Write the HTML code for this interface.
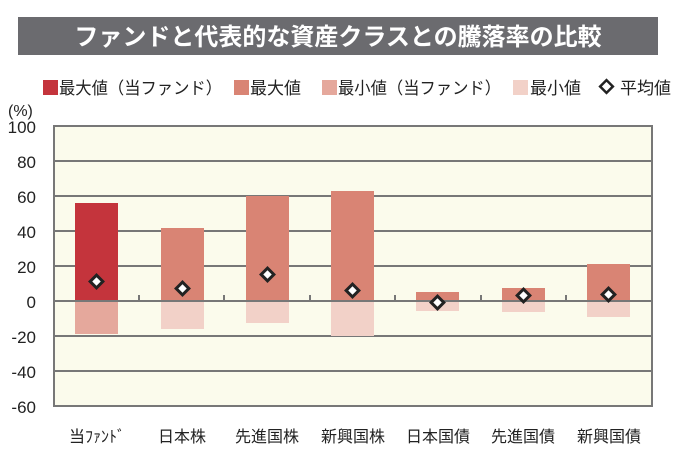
<!DOCTYPE html>
<html><head><meta charset="utf-8"><style>
body{margin:0;background:#fff;width:680px;height:462px;overflow:hidden}
svg text{font-family:"Liberation Sans","Noto Sans CJK JP",sans-serif}
</style></head><body>
<svg width="680" height="462" xmlns="http://www.w3.org/2000/svg">
<rect x="18" y="17" width="640" height="38" fill="#6b6b6f"/>
<text x="338" y="45" text-anchor="middle" font-size="24" font-weight="bold" fill="#fff">ファンドと代表的な資産クラスとの騰落率の比較</text>
<g font-size="17" fill="#222">
<rect x="43" y="80" width="15" height="15" fill="#c4343c"/><text x="59" y="94" textLength="163" lengthAdjust="spacingAndGlyphs">最大値（当ファンド）</text>
<rect x="234" y="80" width="15" height="15" fill="#d98474"/><text x="250" y="94">最大値</text>
<rect x="322" y="80" width="15" height="15" fill="#e5a89c"/><text x="338" y="94" textLength="163" lengthAdjust="spacingAndGlyphs">最小値（当ファンド）</text>
<rect x="513" y="80" width="15" height="15" fill="#f2d1c8"/><text x="530" y="94">最小値</text>
<rect x="602" y="82" width="9" height="9" transform="rotate(45 606.5 86.5)" fill="#fff" stroke="#222" stroke-width="2.5"/><text x="620" y="94">平均値</text>
</g>
<text x="8" y="116" font-size="16" fill="#222">(%)</text>
<rect x="54" y="126" width="598" height="280" fill="#fbfbec"/>
<g stroke="#777" stroke-width="2">
<line x1="54" y1="161" x2="652" y2="161"/><line x1="54" y1="196" x2="652" y2="196"/>
<line x1="54" y1="231" x2="652" y2="231"/><line x1="54" y1="266" x2="652" y2="266"/>
<line x1="54" y1="336" x2="652" y2="336"/><line x1="54" y1="371" x2="652" y2="371"/>
</g>
<g>
<rect x="75" y="203" width="43" height="98" fill="#c4343c"/><rect x="75" y="301" width="43" height="33" fill="#e5a89c"/>
<rect x="161" y="228" width="43" height="73" fill="#d98474"/><rect x="161" y="301" width="43" height="28" fill="#f2d1c8"/>
<rect x="246" y="196" width="43" height="105" fill="#d98474"/><rect x="246" y="301" width="43" height="22" fill="#f2d1c8"/>
<rect x="331" y="191" width="43" height="110" fill="#d98474"/><rect x="331" y="301" width="43" height="35" fill="#f2d1c8"/>
<rect x="416" y="292" width="43" height="9" fill="#d98474"/><rect x="416" y="301" width="43" height="10" fill="#f2d1c8"/>
<rect x="502" y="288" width="43" height="13" fill="#d98474"/><rect x="502" y="301" width="43" height="11" fill="#f2d1c8"/>
<rect x="587" y="264" width="43" height="37" fill="#d98474"/><rect x="587" y="301" width="43" height="16" fill="#f2d1c8"/>
</g>
<g stroke="#777" stroke-width="2">
<line x1="54" y1="301" x2="652" y2="301"/>
<line x1="139" y1="295" x2="139" y2="301"/><line x1="224" y1="295" x2="224" y2="301"/><line x1="310" y1="295" x2="310" y2="301"/>
<line x1="395" y1="295" x2="395" y2="301"/><line x1="481" y1="295" x2="481" y2="301"/><line x1="566" y1="295" x2="566" y2="301"/>
</g>
<rect x="54" y="126" width="598" height="280" fill="none" stroke="#777" stroke-width="2"/>
<g fill="#fff" stroke="#222" stroke-width="3">
<rect x="92" y="277" width="9" height="9" transform="rotate(45 96.5 281.5)"/>
<rect x="178" y="284" width="9" height="9" transform="rotate(45 182.5 288.5)"/>
<rect x="263" y="270" width="9" height="9" transform="rotate(45 267.5 274.5)"/>
<rect x="348" y="286" width="9" height="9" transform="rotate(45 352.5 290.5)"/>
<rect x="433" y="298" width="9" height="9" transform="rotate(45 437.5 302.5)"/>
<rect x="519" y="291" width="9" height="9" transform="rotate(45 523.5 295.5)"/>
<rect x="604" y="290" width="9" height="9" transform="rotate(45 608.5 294.5)"/>
</g>
<g font-size="17" fill="#222" text-anchor="end">
<text x="36" y="133">100</text><text x="36" y="168">80</text><text x="36" y="203">60</text>
<text x="36" y="238">40</text><text x="36" y="273">20</text><text x="36" y="308">0</text>
<text x="36" y="343">-20</text><text x="36" y="378">-40</text><text x="36" y="413">-60</text>
</g>
<g font-size="16" fill="#222" text-anchor="middle">
<text x="97" y="442">当ﾌｧﾝﾄﾞ</text><text x="182" y="442">日本株</text><text x="267" y="442">先進国株</text>
<text x="353" y="442">新興国株</text><text x="438" y="442">日本国債</text><text x="523" y="442">先進国債</text><text x="609" y="442">新興国債</text>
</g>
</svg>
</body></html>
